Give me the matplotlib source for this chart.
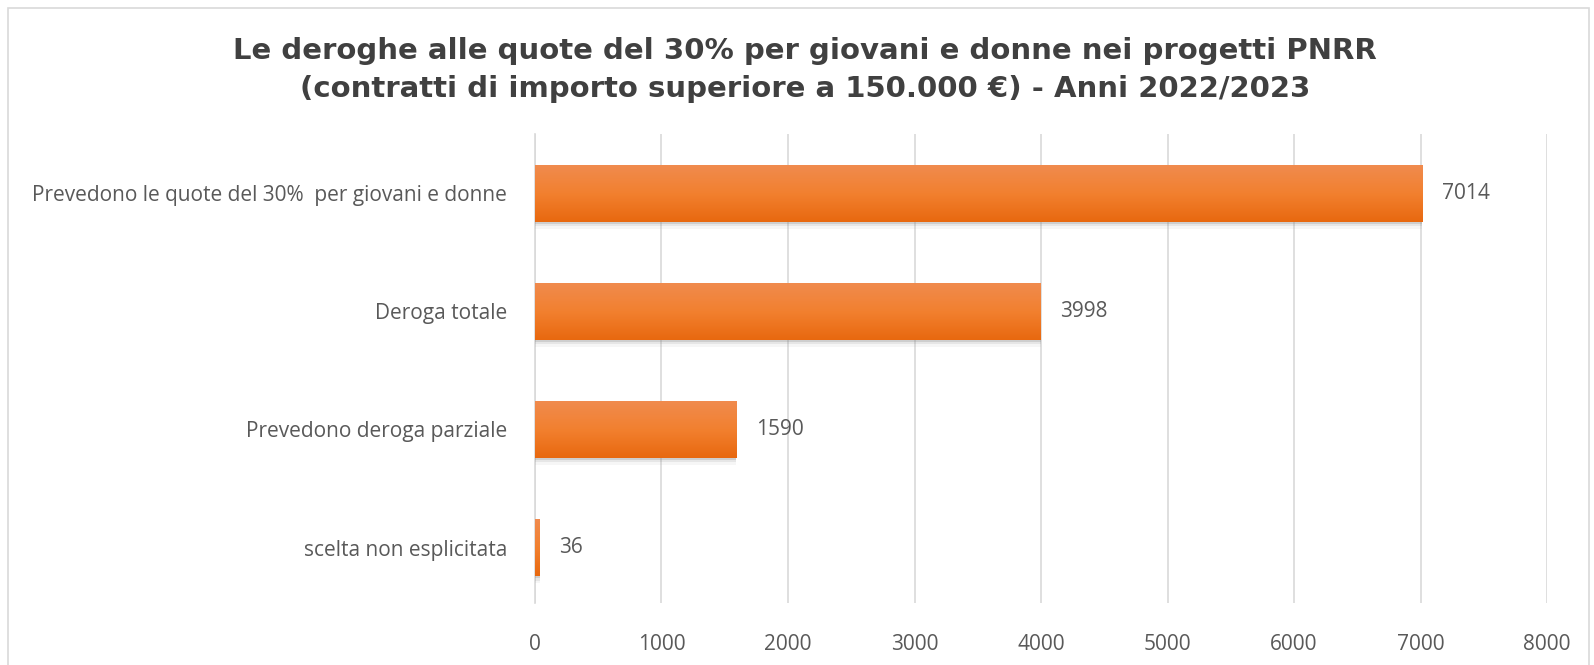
import numpy as np
import matplotlib.pyplot as plt
from matplotlib.patches import Rectangle

categories = ["Prevedono le quote del 30%  per giovani e donne",
              "Deroga totale",
              "Prevedono deroga parziale",
              "scelta non esplicitata"]
values = [7014, 3998, 1590, 36]
xticks = [0, 1000, 2000, 3000, 4000, 5000, 6000, 7000, 8000]

title = ("Le deroghe alle quote del 30% per giovani e donne nei progetti PNRR\n"
         "(contratti di importo superiore a 150.000 €) - Anni 2022/2023")

plt.rcParams['font.family'] = ['Open Sans', 'DejaVu Sans']

fig = plt.figure(figsize=(15.94, 6.65), dpi=100)
ax = fig.add_axes([0.3356, 0.0932, 0.635, 0.705])

y = np.arange(len(categories))
bars = ax.barh(y, values, height=0.48, color='#ED7D31', zorder=3)

# vertical gradient inside each bar, like the original fill
grad = np.linspace(0, 1, 256).reshape(-1, 1)
cmap = plt.matplotlib.colors.LinearSegmentedColormap.from_list(
    'org', ['#F08B4E', '#F2802F', '#E8680F'])
for b in bars:
    x0, y0 = b.get_x(), b.get_y()
    im = ax.imshow(grad, cmap=cmap, aspect='auto', zorder=4,
                   extent=[x0, x0 + b.get_width(), y0 + b.get_height(), y0],
                   interpolation='bicubic')
    im.set_clip_path(b)
    # soft shadow under the bar
    for k, a in [(0.02, 0.25), (0.04, 0.15), (0.06, 0.07)]:
        ax.barh(y0 + b.get_height() / 2 + k, b.get_width(), height=0.48,
                color='#8a8a8a', alpha=a, zorder=2, linewidth=0)

for yi, v in zip(y, values):
    ax.annotate(str(v), (v, yi), xytext=(14, 0), textcoords='offset points',
                va='center', ha='left', fontsize=15, color='#595959')

ax.set_xlim(0, 8000)
ax.set_ylim(len(categories) - 0.53, -0.5)
ax.set_xticks(xticks)
ax.set_yticks(y)
ax.set_yticklabels(categories, fontsize=15.5)
ax.tick_params(axis='both', length=0, labelsize=15, labelcolor='#595959')
ax.tick_params(axis='y', pad=20)
ax.tick_params(axis='x', pad=22)
ax.grid(axis='x', color='#D9D9D9', linewidth=1.2, zorder=0)
ax.set_axisbelow(True)
for s in ['top', 'right', 'bottom']:
    ax.spines[s].set_visible(False)
ax.spines['left'].set_color('#D9D9D9')
ax.spines['left'].set_linewidth(1.2)
ax.spines['left'].set_zorder(1)

fig.text(0.505, 0.895, title, ha='center', va='center', fontsize=21,
         fontweight='bold', color='#404040', linespacing=1.45,
         family=['DejaVu Sans'])

fig.patches.append(Rectangle((0.005, -0.1), 0.992, 1.088, transform=fig.transFigure,
                             fill=False, edgecolor='#D9D9D9', linewidth=1.2))

fig.savefig('out.png', dpi=100)
